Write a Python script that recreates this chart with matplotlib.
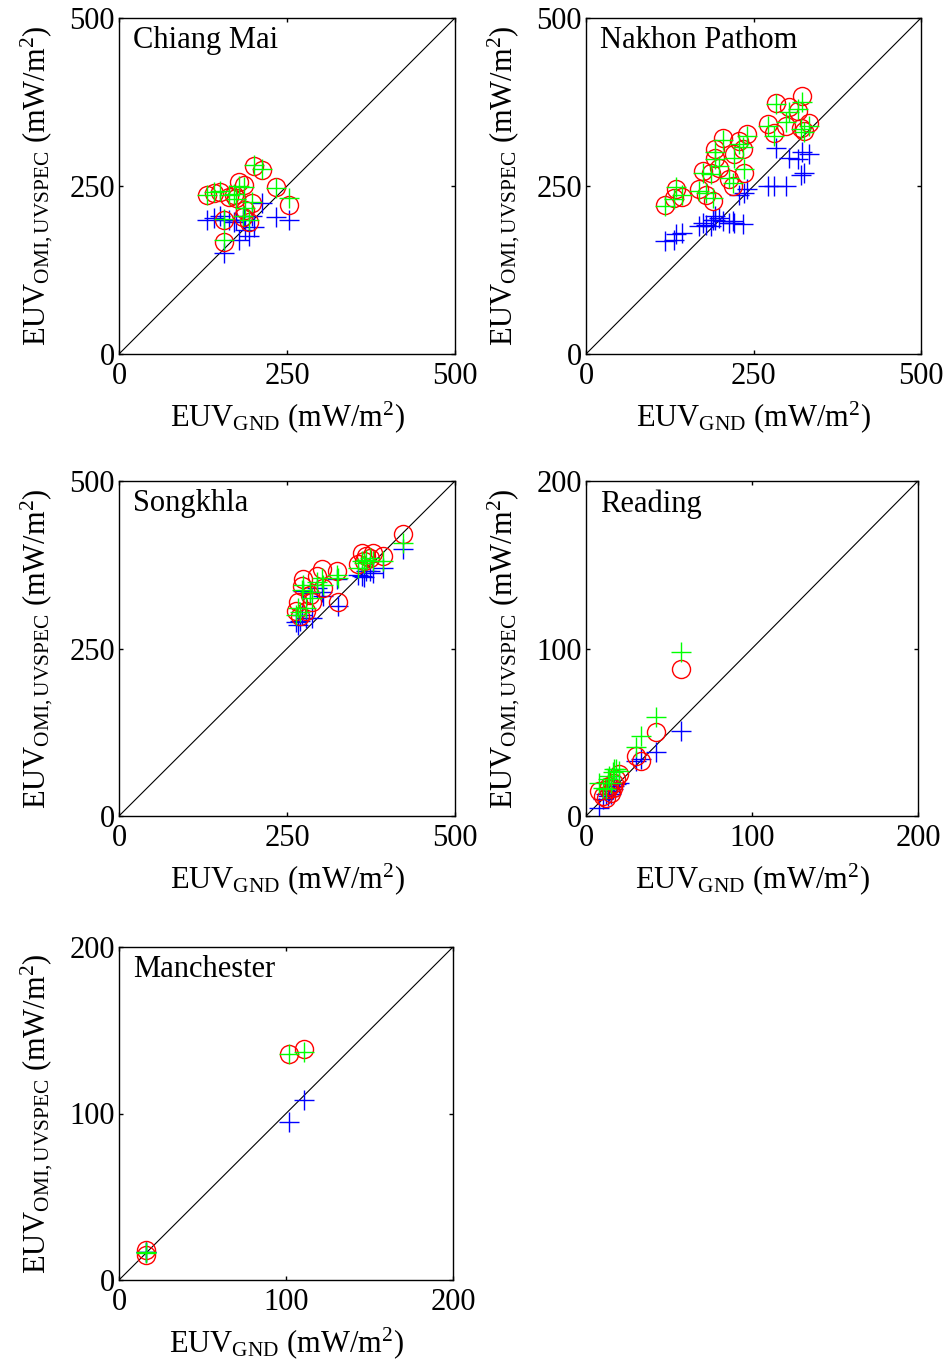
import matplotlib
matplotlib.use("Agg")
import matplotlib.pyplot as plt

plt.rcParams['font.family'] = ['Liberation Serif', 'DejaVu Serif']
plt.rcParams['mathtext.fontset'] = 'custom'
plt.rcParams['mathtext.rm'] = 'Liberation Serif'
plt.rcParams['mathtext.it'] = 'Liberation Serif:italic'
plt.rcParams['mathtext.bf'] = 'Liberation Serif:bold'

# ---------------- data ----------------
sites = ["Chiang Mai", "Nakhon Pathom", "Songkhla", "Reading", "Manchester"]
axis_max = [500, 500, 500, 200, 200]
tick_vals = [[0, 250, 500], [0, 250, 500], [0, 250, 500], [0, 100, 200], [0, 100, 200]]

cm_gnd = [131, 141, 150, 156, 164, 171, 174, 179, 184, 186, 188, 193, 198, 201, 213, 233, 253, 156]
cm_red = [237, 239, 241, 199, 234, 236, 232, 256, 204, 251, 214, 197, 224, 280, 274, 248, 222, 167]
cm_green = [236, 241, 243, 201, 236, 238, 230, 250, 206, 248, 218, 200, 226, 281, 275, 247, 232, 170]
cm_blue = [199, 202, 205, 199, 199, 197, 200, 170, 199, 205, 185, 175, 205, 189, 224, 204, 199, 150]

np_gnd = [118, 132, 134, 144, 169, 174, 179, 187, 189, 192, 192, 199, 204, 214, 219,
          221, 229, 234, 236, 241, 271, 281, 284, 299, 303, 316, 321, 322, 326, 333]
np_red = [222, 232, 245, 234, 245, 272, 237, 270, 227, 305, 292, 277, 322, 260, 250,
          297, 317, 305, 270, 327, 342, 329, 374, 339, 367, 362, 337, 384, 332, 344]
np_green = [220, 230, 248, 236, 242, 270, 240, 268, 232, 300, 290, 280, 318, 262, 255,
            292, 312, 308, 275, 325, 340, 325, 372, 345, 360, 365, 335, 375, 330, 340]
np_blue = [168, 170, 178, 180, 190, 195, 192, 190, 200, 205, 200, 203, 198, 195, 198,
           195, 237, 193, 240, 245, 250, 250, 307, 250, 292, 290, 267, 300, 270, 297]

sk_gnd = [264, 267, 269, 272, 274, 279, 284, 287, 294, 302, 304, 324, 326, 356, 361, 364, 368, 373, 378, 393, 423]
sk_red = [306, 319, 299, 343, 353, 306, 330, 320, 358, 368, 340, 366, 319, 376, 393, 380, 388, 385, 393, 388, 421]
sk_green = [300, 310, 305, 338, 345, 310, 335, 325, 350, 355, 345, 360, 355, 370, 380, 378, 382, 385, 380, 380, 408]
sk_blue = [289, 285, 291, 300, 336, 296, 333, 296, 341, 335, 329, 353, 314, 360, 358, 356, 366, 366, 363, 370, 398]

rd_gnd = [8, 10, 12, 13, 14, 15, 16, 17, 18, 20, 30, 33, 42, 57]
rd_red = [15, 12, 11, 16, 18, 14, 17, 20, 22, 25, 36, 33, 50, 88]
rd_green = [20, 17, 16, 22, 24, 20, 26, 28, 28, 27, 41, 48, 59, 98]
rd_blue = [5, 10, 13, 12, 15, 13, 16, 18, 19, 20, 33, 34, 38, 51]

mc_gnd = [16, 16, 102, 111]
mc_red = [18, 15, 136, 139]
mc_green = [17, 16, 136, 137]
mc_blue = [17, 17, 95, 108]

data = [
    (cm_gnd, cm_red, cm_green, cm_blue),
    (np_gnd, np_red, np_green, np_blue),
    (sk_gnd, sk_red, sk_green, sk_blue),
    (rd_gnd, rd_red, rd_green, rd_blue),
    (mc_gnd, mc_red, mc_green, mc_blue),
]

W, H = 945, 1367
positions = [
    (119, 18, 336, 336),
    (586, 18, 335, 336),
    (119, 481, 336, 335),
    (586, 481, 332, 335),
    (119, 947, 334, 333),
]

fig = plt.figure(figsize=(W / 100, H / 100), dpi=100)
fs = 22

for i, site in enumerate(sites):
    x0, y0, w, h = positions[i]
    ax = fig.add_axes([x0 / W, 1 - (y0 + h) / H, w / W, h / H])
    gnd, red, green, blue = data[i]
    m = axis_max[i]
    ax.plot([0, m], [0, m], color='black', lw=0.8, zorder=1)
    ax.plot(gnd, blue, linestyle='none', marker='+', color='#0000ff', ms=14, mew=1.0, zorder=2)
    ax.plot(gnd, red, linestyle='none', marker='o', mfc='none', mec='#ff0000', ms=13, mew=1.0, zorder=3)
    ax.plot(gnd, green, linestyle='none', marker='+', color='#00ff00', ms=14, mew=1.0, zorder=4)
    ax.set_xlim(0, m)
    ax.set_ylim(0, m)
    ax.set_xticks(tick_vals[i])
    ax.set_yticks(tick_vals[i])
    ax.tick_params(direction='in', top=True, right=True, length=3, width=1,
                   labelsize=fs)
    ax.tick_params(axis='x', pad=6)
    ax.tick_params(axis='y', pad=3)
    for s in ax.spines.values():
        s.set_linewidth(1.0)
    ax.text(0.043, 0.975, site, transform=ax.transAxes, fontsize=fs, va='top', ha='left')
    ax.set_xlabel(r'EUV$_{\mathrm{GND}}$ (mW/m$^2$)', fontsize=fs, labelpad=6)
    ax.set_ylabel(r'EUV$_{\mathrm{OMI,UVSPEC}}$ (mW/m$^2$)', fontsize=fs, labelpad=10)

fig.savefig('out.png', dpi=100)
